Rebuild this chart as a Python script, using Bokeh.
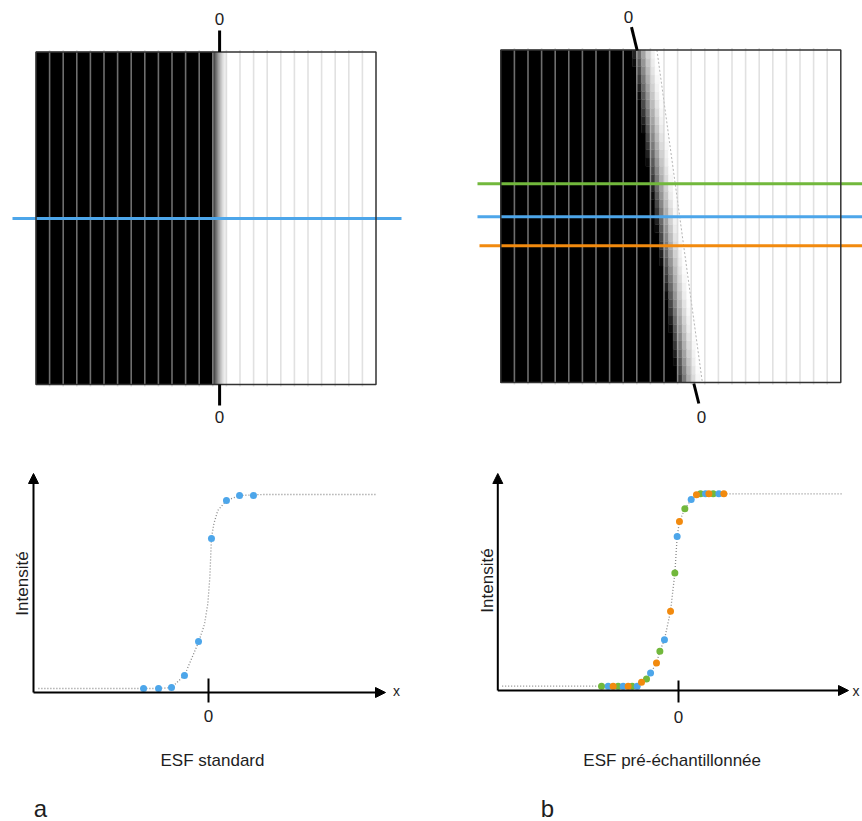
import numpy as np
from bokeh.plotting import figure
from bokeh.layouts import row, column
from bokeh.models import Range1d, Arrow, NormalHead
from bokeh.core.properties import value
from bokeh.embed import file_html
from bokeh.resources import INLINE

# ---------------- data ----------------
# edge images (units = detector columns)
n_columns = 25
image_rows_height = 24.45
edge_gray_levels = [0, 60, 105, 145, 180, 210, 235, 250, 255]

# panel a : vertical edge
edge_a_start = 12.95
edge_a_end = 14.15
edge_a_mark = 13.5
profile_a_row = 12.21

# panel b : slanted edge
edge_b_rows = 40
edge_b_dark_top = 9.66
edge_b_dark_bottom = 13.0
edge_b_ramp = 1.82
profile_b_rows = {"green": 14.61, "blue": 12.19, "orange": 10.06}

# ESF samples, panel a (x in columns, intensity 0..1)
esf_a_x = [-4.81, -3.70, -2.74, -1.78, -0.74, 0.22, 1.33, 2.30, 3.33]
esf_a_y = [0.0, 0.0, 0.005, 0.067, 0.242, 0.773, 0.969, 0.995, 0.995]
curve_a_x = [-12.6, -4.0, -2.74, -1.76, -0.72, -0.30, -0.05, 0.10, 0.22, 0.40, 0.69, 1.33, 2.32, 4.0, 12.5]
curve_a_y = [0.0, 0.0, 0.004, 0.07, 0.242, 0.33, 0.437, 0.574, 0.777, 0.85, 0.918, 0.969, 0.995, 1.0, 1.0]

# ESF samples, panel b (three profiles)
green_x = [-5.70, -4.47, -3.43, -2.37, -1.38, -0.27, 0.47, 1.63, 2.57]
green_y = [0.0, 0.0, 0.0, 0.038, 0.182, 0.588, 0.922, 1.0, 1.0]
blue_x = [-5.21, -4.10, -3.06, -2.07, -1.04, -0.10, 0.94, 2.00, 2.99]
blue_y = [0.0, 0.0, 0.0, 0.068, 0.242, 0.778, 0.970, 1.0, 1.0]
orange_x = [-4.84, -3.73, -2.74, -1.63, -0.59, 0.07, 1.33, 2.25, 3.36]
orange_y = [0.0, 0.0, 0.021, 0.120, 0.390, 0.856, 0.995, 1.0, 1.0]
curve_b_ends_x = [-13.06, 12.13]
curve_b_ends_y = [0.0, 1.0]

COL = {"green": "#72b83c", "blue": "#4da6ea", "orange": "#f28a0e"}
FONT = value("Liberation Sans")
TXT = "#1e1e1e"

# ---------------- helpers ----------------
U = 13.6


def make_fig(w, h, xr, yr):
    p = figure(width=w, height=h, x_range=Range1d(*xr), y_range=Range1d(*yr),
               output_backend="svg", toolbar_location=None, min_border=0,
               x_axis_location=None, y_axis_location=None)
    p.xgrid.visible = False
    p.ygrid.visible = False
    p.outline_line_color = None
    p.background_fill_color = "white"
    p.border_fill_color = "white"
    return p


def label(p, x, y, txt, size, angle=0.0, align="center", baseline="middle"):
    p.text(x=[x], y=[y], text=[txt], text_font=FONT, text_font_size=f"{size}px",
           text_align=align, text_baseline=baseline, angle=angle, text_color=TXT)


def gray_of(frac):
    lv = np.linspace(0, 1, len(edge_gray_levels))
    return np.interp(frac, lv, edge_gray_levels)


def hexg(g):
    g = int(round(g))
    return "#%02x%02x%02x" % (g, g, g)


def top_panel(fx0, fy0, w, h, ox, oy):
    p = make_fig(w, h, ((fx0 - ox) / U, (fx0 + w - ox) / U),
                 ((oy - (fy0 + h)) / U, (oy - fy0) / U))
    p.quad(left=[0], right=[n_columns], bottom=[0], top=[image_rows_height],
           fill_color="white", line_color=None)
    return p


def column_lines(p):
    ks = list(range(1, n_columns))
    p.segment(x0=ks, x1=ks, y0=[-0.15] * len(ks), y1=[image_rows_height + 0.15] * len(ks),
              line_color="#c8c8c8", line_alpha=0.55, line_width=1.6)


def border(p):
    p.quad(left=[0], right=[n_columns], bottom=[0], top=[image_rows_height],
           fill_color=None, line_color="#333333", line_width=1.5)


TOP_H = 440
BOT_H = 381
LW = 431
RW = 431

# ---------------- top a ----------------
ta = top_panel(0, 0, LW, TOP_H, 35.5, 384)
ta.quad(left=[0], right=[edge_a_start], bottom=[0], top=[image_rows_height],
        fill_color="black", line_color="black", line_width=0.5)
ns = 40
xs = np.linspace(edge_a_start, edge_a_end, ns + 1)
mid = (xs[:-1] + xs[1:]) / 2
cols = [hexg(g) for g in gray_of((mid - edge_a_start) / (edge_a_end - edge_a_start))]
ta.quad(left=xs[:-1], right=xs[1:], bottom=[0] * ns, top=[image_rows_height] * ns,
        fill_color=cols, line_color=cols, line_width=0.4)
column_lines(ta)
ta.segment(x0=[(12 - 35.5) / U], x1=[(401 - 35.5) / U], y0=[profile_a_row], y1=[profile_a_row],
           line_color=COL["blue"], line_width=3)
border(ta)
ta.segment(x0=[edge_a_mark, edge_a_mark], x1=[edge_a_mark, edge_a_mark],
           y0=[image_rows_height, 0], y1=[(384 - 30) / U, (384 - 405) / U],
           line_color="black", line_width=3)
label(ta, edge_a_mark, (384 - 18) / U, "0", 17)
label(ta, edge_a_mark, (384 - 416) / U, "0", 17)

# ---------------- top b ----------------
tb = top_panel(LW, 0, RW, TOP_H, 500.3, 382)
rh = image_rows_height / edge_b_rows
sub = 3
ncell = n_columns * sub
px, py = [0.0], [0.0]
gl, gr, gb, gt, gc = [], [], [], [], []
for r in range(edge_b_rows):
    t = (r + 0.5) / edge_b_rows
    dark = edge_b_dark_bottom + (edge_b_dark_top - edge_b_dark_bottom) * t
    y0, y1 = r * rh, (r + 1) * rh
    first = None
    for j in range(ncell):
        xc = (j + 0.5) / sub
        f = (xc - dark) / edge_b_ramp
        if f <= 0:
            continue
        if first is None:
            first = j
        if f >= 1:
            break
        g = gray_of(f)
        gl.append(j / sub); gr.append((j + 1) / sub); gb.append(y0); gt.append(y1)
        gc.append(hexg(g))
    bx = first / sub
    px += [bx, bx]
    py += [y0, y1]
px += [0.0]
py += [image_rows_height]
tb.patch(x=px, y=py, fill_color="black", line_color="black", line_width=0.5)
tb.quad(left=gl, right=gr, bottom=gb, top=gt, fill_color=gc, line_color=gc, line_width=0.4)
tb.segment(x0=[edge_b_dark_top + edge_b_ramp], x1=[edge_b_dark_bottom + edge_b_ramp],
           y0=[image_rows_height], y1=[0], line_color="#b5b5b5", line_width=1, line_dash="2 2")
column_lines(tb)
for name in ["green", "blue", "orange"]:
    x0 = (477 - 500.3) / U if name != "orange" else (479 - 500.3) / U
    tb.segment(x0=[x0], x1=[(866 - 500.3) / U], y0=[profile_b_rows[name]], y1=[profile_b_rows[name]],
               line_color=COL[name], line_width=3)
border(tb)
tb.segment(x0=[(631 - 500.3) / U, (693.3 - 500.3) / U], x1=[(636.7 - 500.3) / U, (698.3 - 500.3) / U],
           y0=[(382 - 26.7) / U, (382 - 383) / U], y1=[(382 - 50) / U, (382 - 403) / U],
           line_color="black", line_width=3)
label(tb, (628 - 500.3) / U, (382 - 16) / U, "0", 17)
label(tb, (701 - 500.3) / U, (382 - 416) / U, "0", 17)


# ---------------- bottom panels ----------------
def bottom_panel(fx0, fy0, w, h, zx, zy, ux, uy, ax_x, ax_y, tip_x, tip_y, tick_top, tick_bot):
    p = make_fig(w, h, ((fx0 - zx) / ux, (fx0 + w - zx) / ux),
                 ((zy - (fy0 + h)) / uy, (zy - fy0) / uy))
    X = lambda rx: (rx - zx) / ux
    Y = lambda ry: (zy - ry) / uy
    for (xe, ye) in [(X(ax_x), Y(tip_y)), (X(tip_x), Y(ax_y))]:
        p.add_layout(Arrow(end=NormalHead(size=10, fill_color="black", line_color="black"),
                           x_start=X(ax_x), y_start=Y(ax_y), x_end=xe, y_end=ye,
                           line_color="black", line_width=2))
    p.segment(x0=[0], x1=[0], y0=[Y(tick_top)], y1=[Y(tick_bot)], line_color="black", line_width=2)
    return p, X, Y


ba, XA, YA = bottom_panel(0, TOP_H, LW, BOT_H, 208, 688, 13.5, 194, 33, 692, 385, 473, 678, 702)
ba.line(curve_a_x, curve_a_y, line_color="#8a8a8a", line_width=1.3, line_dash="1 2")
ba.scatter(esf_a_x, esf_a_y, size=7, fill_color=COL["blue"], line_color=None)
label(ba, XA(22), YA(583), "Intensité", 17, angle=np.pi / 2)
label(ba, 0, YA(715), "0", 17)
label(ba, XA(396), YA(690), "x", 14)
label(ba, XA(212), YA(760), "ESF standard", 17)
label(ba, XA(40), YA(808), "a", 24)

bb, XB, YB = bottom_panel(LW, TOP_H, RW, BOT_H, 678, 685.7, 13.5, 192.4, 497.3, 690, 848, 473, 680, 702)
pts = sorted(zip(green_x + blue_x + orange_x + curve_b_ends_x,
                 green_y + blue_y + orange_y + curve_b_ends_y))
bb.line([p_[0] for p_ in pts], [p_[1] for p_ in pts], line_color="#8a8a8a", line_width=1.3, line_dash="1 2")
for name, xs_, ys_ in [("green", green_x, green_y), ("blue", blue_x, blue_y), ("orange", orange_x, orange_y)]:
    bb.scatter(xs_, ys_, size=7, fill_color=COL[name], line_color=None)
label(bb, XB(486.7), YB(580), "Intensité", 17, angle=np.pi / 2)
label(bb, 0, YB(716), "0", 17)
label(bb, XB(852), YB(690), "x", 14, align="left")
label(bb, XB(671.7), YB(760), "ESF pré-échantillonnée", 17)
label(bb, XB(547), YB(808), "b", 24)

layout = column(row(ta, tb), row(ba, bb))
open("out.html", "w").write(file_html(layout, INLINE))
